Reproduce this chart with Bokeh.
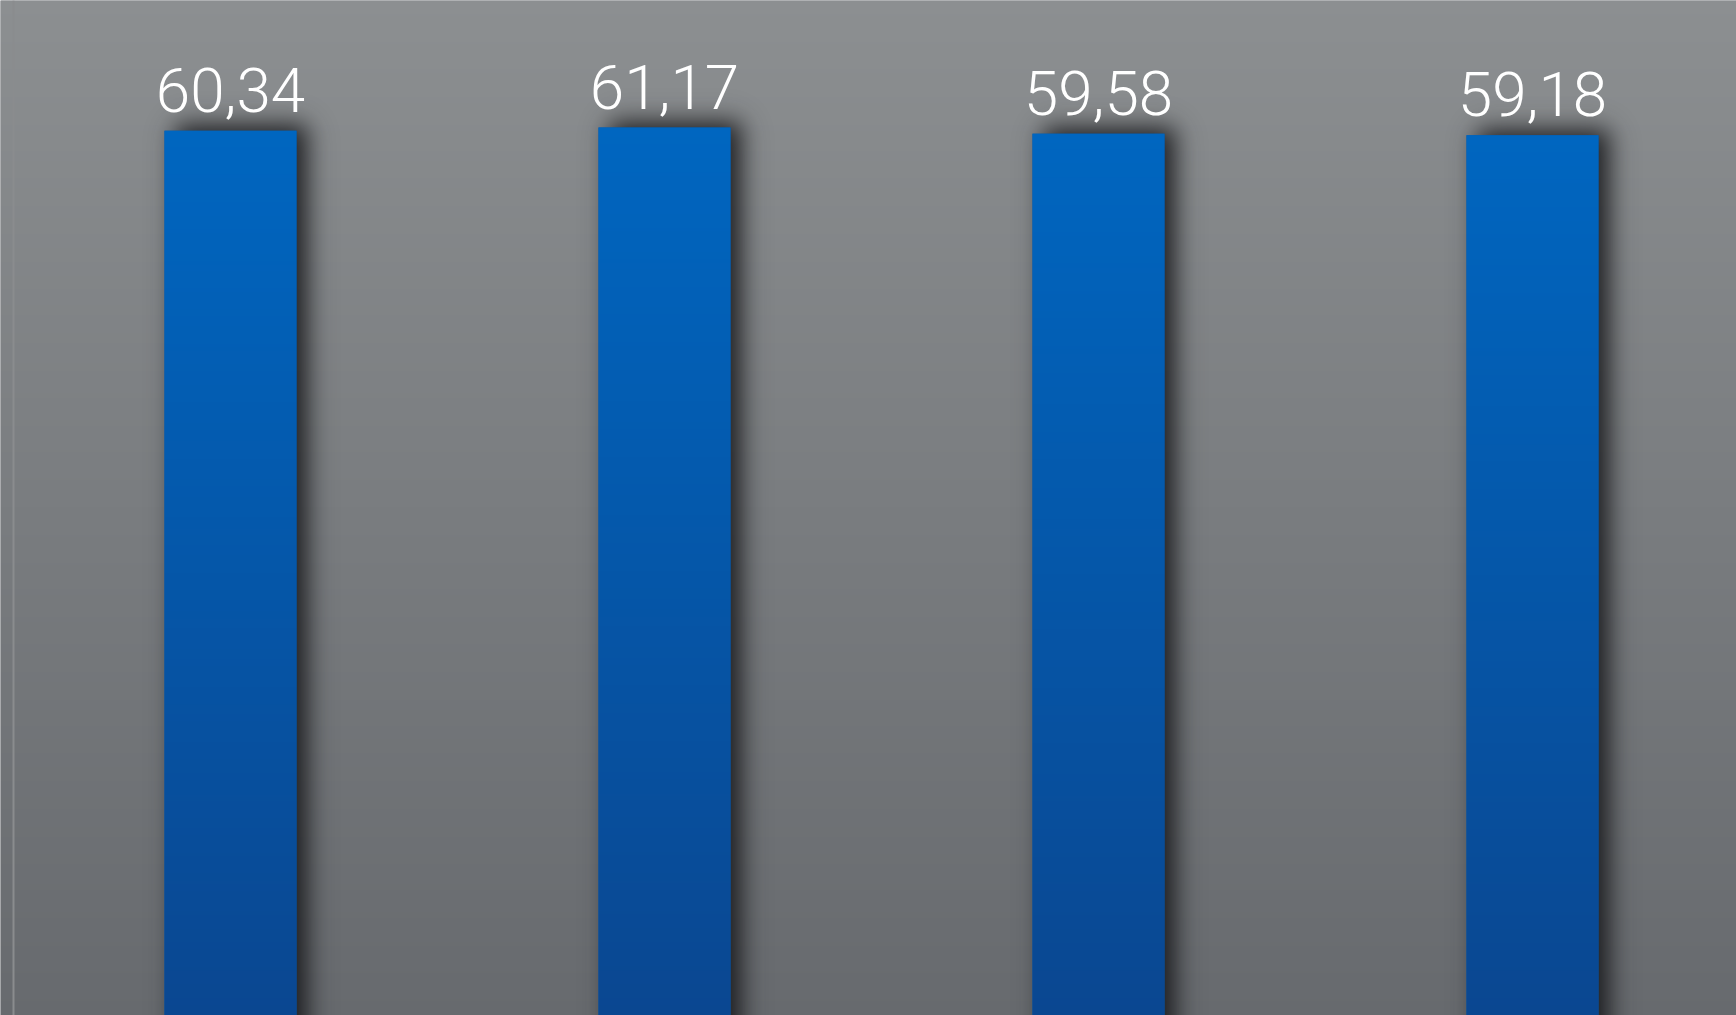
import math
import numpy as np
from bokeh.plotting import figure
from bokeh.models import Range1d, Span, ColumnDataSource
from bokeh.core.properties import value
from bokeh.embed import file_html
from bokeh.resources import INLINE

# ---- data ----
bar_positions = [0, 1, 2, 3]
bar_values = [60.34, 61.17, 59.58, 59.18]
bar_labels = ["60,34", "61,17", "59,58", "59,18"]

# ---- layout / style ----
W, H = 1736, 1015
SX = 434.0                      # px per x unit
X_START = -230.0 / SX
X_END = X_START + W / SX
SY = 3.884                      # px per y unit
Y_END = 61.17 + 127.0 / SY
Y_START = Y_END - H / SY
BAR_W = 132.0 / SX

BG_TOP, BG_BOTTOM = (140, 143, 145), (103, 106, 110)
BAR_TOP, BAR_BOTTOM = (0, 102, 192), (10, 71, 145)


def gradient(rows, bottom, top, cols=1):
    img = np.zeros((rows, cols, 4), dtype=np.uint8)
    t = np.linspace(0, 1, rows)[:, None]
    for c in range(3):
        img[:, :, c] = np.round(bottom[c] + (top[c] - bottom[c]) * t)
    img[:, :, 3] = 255
    return img.view(np.uint32).reshape(rows, cols)


p = figure(width=W, height=H, output_backend="svg", toolbar_location=None,
           x_range=Range1d(X_START, X_END), y_range=Range1d(Y_START, Y_END),
           min_border=0, outline_line_color=None)
p.axis.visible = False
p.grid.visible = False
p.background_fill_color = "#7a7d80"
p.border_fill_color = "#8b8e90"

# background gradient
p.image_rgba(image=[gradient(512, BG_BOTTOM, BG_TOP)], x=X_START, y=Y_START,
             dw=X_END - X_START, dh=Y_END - Y_START)

# left axis line
p.add_layout(Span(location=X_START + 13.0 / SX, dimension="height",
                  line_color="#8a8c8e", line_width=2))

# shadows (blurred rectangle, offset right / up), one image per bar
SIG, DX, DY, A = 12.0, 11.0, 6.0, 0.9
MX, MT = 60, 60
erf = np.vectorize(math.erf)
sh_imgs, sh_x, sh_y, sh_dw, sh_dh = [], [], [], [], []
for xpos, v in zip(bar_positions, bar_values):
    left = xpos - BAR_W / 2
    right = xpos + BAR_W / 2
    wpx = int(round((right - left) * SX)) + 2 * MX
    px = np.arange(wpx) + 0.5
    L, R = MX + DX, MX + (right - left) * SX + DX
    fx = 0.5 * (erf((px - L) / (SIG * math.sqrt(2))) - erf((px - R) / (SIG * math.sqrt(2))))
    body = int(round((v - Y_START) * SY))
    rows = body + MT
    py = np.arange(rows) + 0.5
    fy = 0.5 * (1 - erf((py - (body + DY)) / (SIG * math.sqrt(2))))
    alpha = A * fy[:, None] * fx[None, :]
    img = np.zeros((rows, wpx, 4), dtype=np.uint8)
    img[:, :, 0] = 20
    img[:, :, 1] = 21
    img[:, :, 2] = 24
    img[:, :, 3] = np.clip(np.round(alpha * 255), 0, 255)
    sh_imgs.append(img.view(np.uint32).reshape(rows, wpx))
    sh_x.append(left - MX / SX)
    sh_y.append(Y_START)
    sh_dw.append(wpx / SX)
    sh_dh.append(rows / SY)

p.image_rgba(image=sh_imgs, x=sh_x, y=sh_y, dw=sh_dw, dh=sh_dh)

# bars
src = ColumnDataSource(dict(x=bar_positions, top=bar_values, label=bar_labels))
p.vbar(x="x", top="top", bottom=Y_START, width=BAR_W, source=src,
       fill_color="#0558ab", line_color=None)
p.image_rgba(image=[gradient(256, BAR_BOTTOM, BAR_TOP) for _ in bar_values],
             x=[b - BAR_W / 2 for b in bar_positions], y=[Y_START] * len(bar_values),
             dw=[BAR_W] * len(bar_values), dh=[v - Y_START for v in bar_values])

# value labels
p.text(x="x", y="top", text="label", source=src, y_offset=-41,
       text_align="center", text_baseline="alphabetic",
       text_font=value("Roboto Light"), text_font_size="62px", text_color="white")

open("out.html", "w").write(file_html(p, INLINE))
